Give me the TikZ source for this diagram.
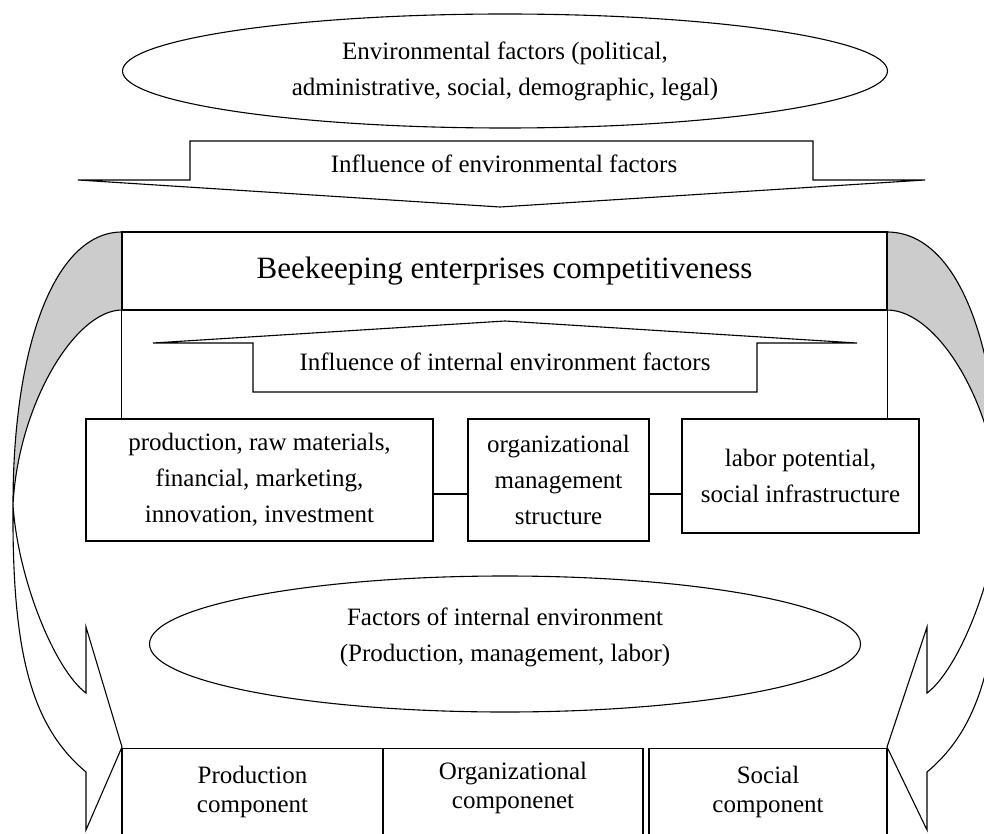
\documentclass[tikz,border=0pt]{standalone}
\usepackage{fontspec}
\setmainfont{Liberation Serif}
\usetikzlibrary{shapes.geometric}

\begin{document}
\begin{tikzpicture}[x=1pt,y=-1pt,line width=1.1pt,
    every node/.style={font=\fontsize{25}{36}\selectfont,align=center,inner sep=0pt},
    oval/.style={draw,ellipse},
    box/.style={draw,rectangle},
    comp/.style={font=\fontsize{25}{29}\selectfont}]
  \useasboundingbox (0,0) rectangle (984,834);
  \clip (0,0) rectangle (984,834);

  % curved side arrows, grey back part first
  \filldraw[fill=gray!40] (122,232) .. controls (55,232) and (13,345) .. (13,505)
      .. controls (18,405) and (75,310) .. (122,310);
  \draw (13,505) .. controls (12,650) and (30,725) .. (86,772) -- (86,830)
      -- (122,747) -- (86,627) -- (86,693) .. controls (55,670) and (18,580) .. (13,505);
  \filldraw[fill=gray!40] (887,232) .. controls (958,232) and (1000,345) .. (1000,505)
      .. controls (995,405) and (938,310) .. (887,310);
  \draw (1000,505) .. controls (1001,650) and (983,725) .. (927,772) -- (927,830)
      -- (887,747) -- (927,627) -- (927,693) .. controls (958,670) and (995,580) .. (1000,505);

  % outer environment
  \node[oval,minimum width=765pt,minimum height=114pt] (envfac) at (505,71)
      {Environmental factors (political,\\administrative, social, demographic, legal)};
  \draw (190,141) -- (813,141) -- (813,180) -- (925,180) -- (500,207)
      -- (78,180) -- (190,180) -- cycle;
  \node (envinf) at (504,164) {Influence of environmental factors};

  % enterprise and internal factors
  \node[box,minimum width=765pt,minimum height=78pt,font=\fontsize{31}{36}\selectfont]
      (bee) at (504.5,271) {Beekeeping enterprises competitiveness};
  \draw (253,392) -- (757,392) -- (757,343) -- (857,343) -- (505,321)
      -- (153,343) -- (253,343) -- cycle;
  \node (intinf) at (505,362) {Influence of internal environment factors};

  \node[box,minimum width=347pt,minimum height=122pt] (b1) at (259.5,480)
      {production, raw materials,\\financial, marketing,\\innovation, investment};
  \node[box,minimum width=181pt,minimum height=122pt] (b2) at (558.5,480)
      {organizational\\management\\structure};
  \node[box,minimum width=237pt,minimum height=114pt] (b3) at (800.5,476)
      {labor potential,\\social infrastructure};
  \coordinate (j1) at ([yshift=-14pt]b1.east);
  \coordinate (j2) at ([yshift=-14pt]b2.east);
  \draw (j1) -- (j1 -| b2.west);
  \draw (j2) -- (j2 -| b3.west);
  \draw (bee.south west) -- (bee.south west |- b1.north);
  \draw (bee.south east) -- (bee.south east |- b1.north);

  \node[oval,minimum width=711pt,minimum height=136pt] (inenv) at (505,644) {};
  \node (inenvtxt) at ([yshift=7pt]inenv.center)
      {Factors of internal environment\\(Production, management, labor)};

  % components
  \node[box,minimum width=261pt,minimum height=110pt,anchor=north] (c1) at (252.5,748) {};
  \node[box,minimum width=260pt,minimum height=110pt,anchor=north] (c2) at (513,748) {};
  \node[box,minimum width=238pt,minimum height=110pt,anchor=north] (c3) at (768,748) {};
  \node[comp] (c1t) at ([yshift=-44pt]c1.north) {Production\\component};
  \node[comp] (c2t) at ([yshift=-40pt]c2.north) {Organizational\\componenet};
  \node[comp] (c3t) at ([yshift=-44pt]c3.north) {Social\\component};
\end{tikzpicture}
\end{document}
